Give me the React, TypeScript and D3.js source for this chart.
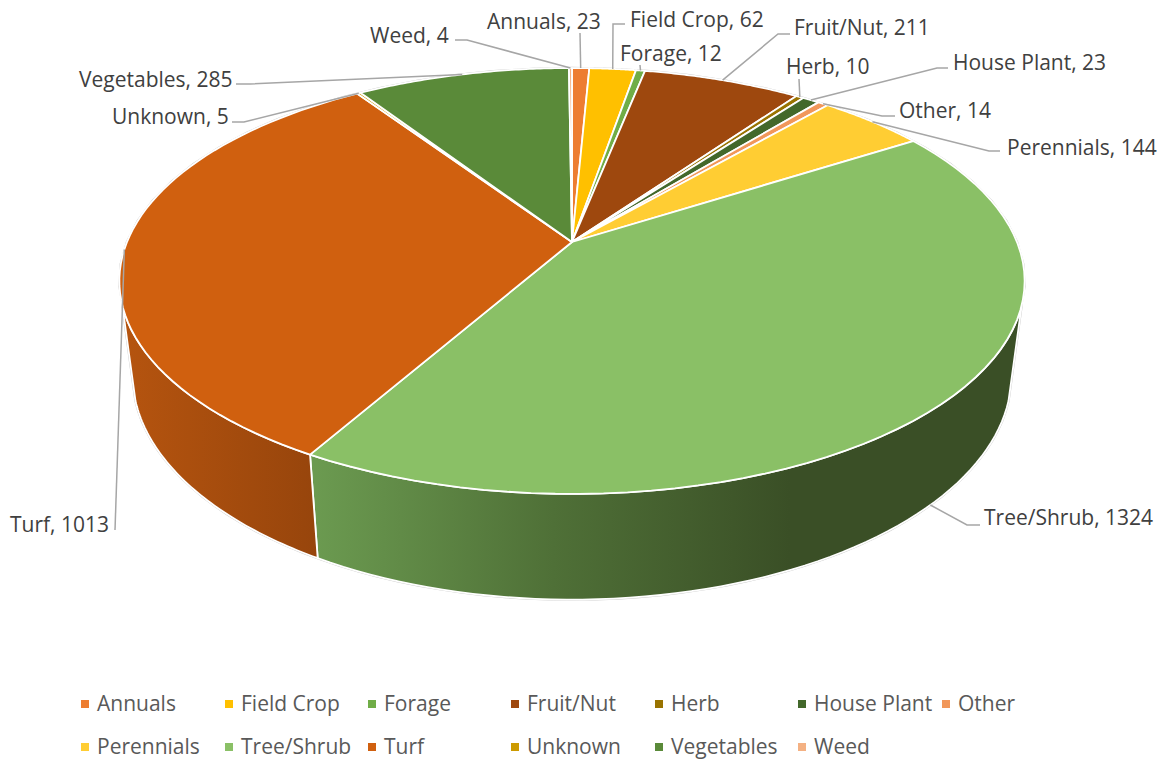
import * as d3 from 'd3';

const categories = ['Annuals', 'Field Crop', 'Forage', 'Fruit/Nut', 'Herb', 'House Plant', 'Other', 'Perennials', 'Tree/Shrub', 'Turf', 'Unknown', 'Vegetables', 'Weed'];
const counts = [23, 62, 12, 211, 10, 23, 14, 144, 1324, 1013, 5, 285, 4];
const colors = ['#ED7D31', '#FFC000', '#70AD47', '#9E480E', '#997300', '#43682B', '#F1975A', '#FFCD33', '#8AC066', '#D0600F', '#CC9A00', '#5A8A39', '#F4B183'];

// label start x, label centre y
const labelPos: [number, number][] = [
  [487, 22], [630, 20], [620, 54], [794, 28], [786, 67], [953, 63], [899, 111],
  [1007, 148], [984, 518], [10, 525], [112, 117], [79, 80], [370, 36],
];
// leader line elbow points, the last point comes from the slice
const leaderPts: [number, number][][] = [
  [[580, 33]],
  [[625, 24], [613, 24]],
  [[640, 65]],
  [[790, 34], [778, 34]],
  [[799, 79]],
  [[948, 68], [937, 68]],
  [[895, 116], [882, 116]],
  [[1000, 151], [989, 151]],
  [[980, 525], [967, 525]],
  [[115, 530]],
  [[232, 122], [244, 122]],
  [[236, 84], [250, 84]],
  [[455, 40], [467, 40]],
];

const legendCols = [81, 225, 368, 511, 655, 798, 942];
const legendRows = [704, 747];
const FONT = '"Open Sans", "Noto Sans", sans-serif';

// perspective projection of the pie disc
const cx = 572;
const k = 0.183;
const top = { a: 445, b: 205.8, y0: 242 };
const bottom = { a: 432, b: 217, y0: 334 };
const project = (t: number, p = top): [number, number] => {
  const X = Math.sin(t);
  const Y = Math.cos(t);
  const w = 1 + k * Y;
  return [cx + (p.a * X) / w, p.y0 - (p.b * Y) / w];
};

const wallFrom = (107 * Math.PI) / 180;
const wallTo = (253 * Math.PI) / 180;

const arcs = d3.pie<number>().sort(null)(counts);
const line = d3.line();

const sample = (a: number, b: number, p = top) =>
  d3.range(0, 61).map((i) => project(a + ((b - a) * i) / 60, p));

const slicePath = (a: number, b: number) => `${line([[cx, top.y0], ...sample(a, b)])}Z`;
const wallPath = (a: number, b: number) => {
  const s = Math.max(a, wallFrom);
  const e = Math.min(b, wallTo);
  return `${line([...sample(s, e), ...sample(s, e, bottom).reverse()])}Z`;
};
const outline = `${line(sample(0, Math.PI * 2))}Z`;
const wallOutline = `${line([...sample(wallFrom, wallTo), ...sample(wallFrom, wallTo, bottom).reverse()])}Z`;

const wallIdx = [8, 9];

export default function App() {
  return (
    <svg width={1165} height={760} style={{ position: 'absolute', left: 0, top: 0, background: '#fff' }} fontFamily={FONT}>
      <defs>
        <linearGradient id="wall8" gradientUnits="userSpaceOnUse" x1={316} x2={790} y1={0} y2={0}>
          <stop offset="0" stopColor="#6B9A50" />
          <stop offset="0.5" stopColor="#4F7037" />
          <stop offset="1" stopColor="#3A4F26" />
        </linearGradient>
        <linearGradient id="wall9" gradientUnits="userSpaceOnUse" x1={125} x2={316} y1={0} y2={0}>
          <stop offset="0" stopColor="#B5540F" />
          <stop offset="1" stopColor="#97450C" />
        </linearGradient>
      </defs>

      <path d={wallOutline} fill="none" stroke="#c8c8c8" strokeWidth={2.4} />
      <path d={outline} fill="none" stroke="#c8c8c8" strokeWidth={2.4} />
      {wallIdx.map((i) => (
        <path key={i} d={wallPath(arcs[i].startAngle, arcs[i].endAngle)} fill={`url(#wall${i})`} stroke="#fff" strokeWidth={1.8} />
      ))}
      {arcs.map((d, i) => (
        <path key={categories[i]} d={slicePath(d.startAngle, d.endAngle)} fill={colors[i]} stroke="#fff" strokeWidth={1.8} strokeLinejoin="round" />
      ))}

      {arcs.map((d, i) => {
        const anchor = project((d.startAngle + d.endAngle) / 2, categories[i] === 'Tree/Shrub' ? bottom : top);
        return <path key={categories[i]} d={line([...leaderPts[i], anchor]) ?? ''} fill="none" stroke="#A6A6A6" strokeWidth={1.5} />;
      })}

      {categories.map((c, i) => (
        <text key={c} x={labelPos[i][0]} y={labelPos[i][1]} dy="0.35em" fontSize={21} fill="#404040">
          {`${c}, ${counts[i]}`}
        </text>
      ))}

      {categories.map((c, i) => {
        const col = legendCols[i % 7];
        const row = legendRows[Math.floor(i / 7)];
        return (
          <g key={c}>
            <rect x={col} y={row - 4} width={8} height={8} fill={colors[i]} />
            <text x={col + 16} y={row} dy="0.35em" fontSize={21} fill="#595959">{c}</text>
          </g>
        );
      })}
    </svg>
  );
}
